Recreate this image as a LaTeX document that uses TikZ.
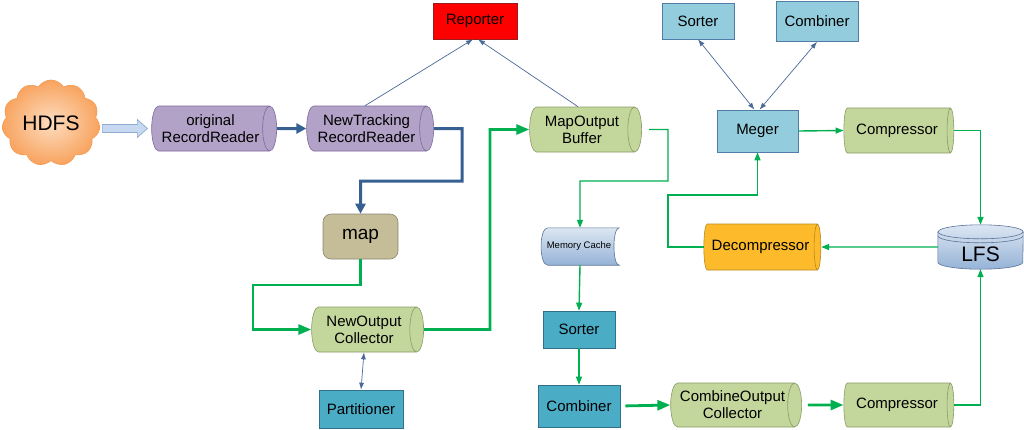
\documentclass[tikz,border=0pt]{standalone}
\usepackage{fontspec}
\setmainfont{Liberation Sans}
\usetikzlibrary{shapes.geometric,shapes.symbols,arrows.meta,calc}
\definecolor{cPurple}{HTML}{B3A2C7}
\definecolor{cPurpleB}{HTML}{7F6A9E}
\definecolor{cGreen}{HTML}{C3D69B}
\definecolor{cGreenB}{HTML}{8A9C66}
\definecolor{cTan}{HTML}{C4BD97}
\definecolor{cTanB}{HTML}{8C8670}
\definecolor{cLight}{HTML}{93CDDD}
\definecolor{cLightB}{HTML}{4F7DA8}
\definecolor{cDark}{HTML}{4BACC6}
\definecolor{cDarkB}{HTML}{31708A}
\definecolor{cRed}{HTML}{FF0000}
\definecolor{cRedB}{HTML}{9A1C1C}
\definecolor{cAmber}{HTML}{FDBB2C}
\definecolor{cAmberB}{HTML}{B8891F}
\definecolor{cFlowBlue}{HTML}{376092}
\definecolor{cGreenLine}{HTML}{00B050}
\definecolor{cThin}{HTML}{4A6A98}
\definecolor{cSkyT}{HTML}{DCE6F2}
\definecolor{cSkyB}{HTML}{95B3D7}
\definecolor{cSkyLine}{HTML}{5B7398}
\definecolor{cArrowFill}{HTML}{C6D9F1}
\definecolor{cArrowLine}{HTML}{8EAAD0}
\definecolor{cCloudIn}{HTML}{FDDDC0}
\definecolor{cCloudOut}{HTML}{F8A35E}
\definecolor{cCloudB}{HTML}{F59A50}
\begin{document}
\begin{tikzpicture}[x=1pt,y=-1pt,
  txt/.style={font=\fontsize{15}{17}\selectfont, text=black, align=center},
  cyl/.style={txt, cylinder, shape border rotate=0, aspect=0.5, draw, line width=0.6pt, inner sep=0pt},
  purplecyl/.style={cyl, fill=cPurple, draw=cPurpleB},
  greencyl/.style={cyl, fill=cGreen, draw=cGreenB},
  box/.style={txt, rectangle, draw, line width=0.6pt, inner sep=0pt},
  lightbox/.style={box, fill=cLight, draw=cLightB},
  darkbox/.style={box, fill=cDark, draw=cDarkB},
  blueflow/.style={draw=cFlowBlue, line width=3pt, -{Triangle[length=10pt,width=10pt]}},
  gthick/.style={draw=cGreenLine, line width=2.8pt, -{Triangle[length=13pt,width=10pt]}},
  gthin/.style={draw=cGreenLine, line width=1.4pt, -{Triangle[length=8pt,width=6pt]}},
  thinblue/.style={draw=cThin, line width=0.7pt, -{Latex[length=7pt,width=5pt]}},
  thinboth/.style={draw=cThin, line width=0.7pt, {Latex[length=7pt,width=5pt]}-{Latex[length=7pt,width=5pt]}}
]
\useasboundingbox (0,0) rectangle (1024,429);
\fill[white] (0,0) rectangle (1024,429);

% ---------- nodes ----------
\node[cloud, cloud puffs=11, cloud puff arc=115, aspect=1.15, minimum width=98pt, minimum height=86pt,
      inner sep=0pt, draw=cCloudB, line width=0.6pt, inner color=cCloudIn, outer color=cCloudOut,
      font=\fontsize{21}{24}\selectfont] (hdfs) at (51,123) {HDFS};

\node[purplecyl, minimum height=125pt, minimum width=45pt] (orig) at (210.5,128.5) {original\\RecordReader};
\node[purplecyl, minimum height=127pt, minimum width=45pt] (newtr) at (366.5,128.5) {NewTracking\\RecordReader};
\node[box, rounded corners=8pt, fill=cTan, draw=cTanB, minimum width=75pt, minimum height=45pt,
      font=\fontsize{19}{22}\selectfont] (map) at (360.5,236.5) {map};
\node[greencyl, minimum height=112pt, minimum width=45pt] (newout) at (364,329.5) {NewOutput\\Collector};
\node[darkbox, minimum width=84pt, minimum height=38pt] (part) at (361,409) {Partitioner};
\node[box, fill=cRed, draw=cRedB, minimum width=84pt, minimum height=36pt] (rep) at (475,21) {Reporter};
\node[greencyl, minimum height=112pt, minimum width=45pt] (mapout) at (582,129.5) {MapOutput\\Buffer};

\node[minimum width=78pt, minimum height=37pt, inner sep=0pt] (mem) at (580,246.5) {};
\shade[top color=cSkyT, bottom color=cSkyB, draw=cSkyLine, line width=0.6pt]
  ([xshift=7pt]mem.north west) -- (mem.north east)
  .. controls ([xshift=-7pt]mem.north east) and ([xshift=-7pt]mem.south east) .. (mem.south east)
  -- ([xshift=7pt]mem.south west)
  .. controls ([xshift=-2pt]mem.south west) and ([xshift=-2pt]mem.north west) .. ([xshift=7pt]mem.north west) -- cycle;
\node[font=\fontsize{9.5}{11}\selectfont, inner sep=0pt] (memt) at ([xshift=-1pt]mem.center) {Memory Cache};

\node[darkbox, minimum width=72pt, minimum height=37pt] (sortB) at (579,329.5) {Sorter};
\node[darkbox, minimum width=82pt, minimum height=42pt] (combB) at (579,406) {Combiner};
\node[greencyl, minimum height=131pt, minimum width=44pt] (combout) at (732.5,405) {CombineOutput\\Collector};
\node[greencyl, minimum height=110pt, minimum width=44pt] (comp2) at (897,405) {Compressor};

\node[lightbox, minimum width=72pt, minimum height=36pt] (sortT) at (698,21) {Sorter};
\node[lightbox, minimum width=82pt, minimum height=40pt] (combT) at (817,21.5) {Combiner};
\node[lightbox, minimum width=81pt, minimum height=42pt] (meger) at (757.5,131) {Meger};
\node[greencyl, minimum height=110pt, minimum width=45pt] (comp1) at (897,130.5) {Compressor};
\node[cyl, fill=cAmber, draw=cAmberB, minimum height=117pt, minimum width=46pt] (decomp) at (760.5,247) {Decompressor};

\node[minimum width=85pt, minimum height=44pt, inner sep=0pt] (lfs) at (980.5,247) {};
\shade[top color=cSkyT, bottom color=cSkyB, draw=cSkyLine, line width=0.6pt]
  ([yshift=-7pt]lfs.north west) -- ([yshift=7pt]lfs.south west)
  arc[start angle=180, end angle=360, x radius=42.5pt, y radius=7pt]
  -- ([yshift=-7pt]lfs.north east)
  arc[start angle=0, end angle=180, x radius=42.5pt, y radius=7pt] -- cycle;
\draw[cSkyLine, line width=0.6pt] ([yshift=-7pt]lfs.north west)
  arc[start angle=180, end angle=360, x radius=42.5pt, y radius=7pt];
\draw[cSkyLine, line width=0.6pt] ([yshift=-11pt]lfs.north west)
  arc[start angle=180, end angle=360, x radius=42.5pt, y radius=7pt];
\node[font=\fontsize{21}{24}\selectfont, inner sep=0pt] (lfst) at ([yshift=-7pt]lfs.center) {LFS};

% ---------- connectors ----------
\coordinate (ha) at ([xshift=3pt]hdfs.east |- orig.west);
\draw[fill=cArrowFill, draw=cArrowLine, line width=0.7pt, line join=miter]
  (ha) +(0,-4) -- +(35,-4) -- +(35,-9) -- +(45,0) -- +(35,9) -- +(35,4) -- +(0,4) -- cycle;

\draw[blueflow] (orig.east) -- (newtr.west);
\draw[blueflow] (newtr.east) -- (462,128.5) -- (462,181) -- (map.north |- 0,181) -- (map.north);

\draw[gthick] (map.south) -- (map.south |- 0,285) -- (253,285) -- (253,329.5) -- (newout.west);
\draw[gthick] (newout.east) -- (490,329.5) -- (490,129.5) -- (mapout.west);
\draw[thinboth] (newout.south) -- (part.north);

\draw[thinblue] ([xshift=-1.5pt]newtr.north) -- ([xshift=-2pt]rep.south);
\draw[thinblue] ([xshift=-4pt]mapout.north) -- ([xshift=3pt]rep.south);

\draw[gthin, shorten <=7pt] (mapout.east) -- (668,129.5) -- (668,181) -- (mem.north |- 0,181) -- (mem.north);
\draw[gthin] (mem.south) -- (sortB.north);
\draw[gthin] (sortB.south) -- (combB.north);
\draw[gthick, shorten <=5pt] (combB.east) -- (combout.west);
\draw[gthick, shorten <=6pt] (combout.east) -- (comp2.west);
\draw[gthin] (comp2.east) -| (lfs.south);

\draw[thinboth] (sortT.south) -- ([xshift=-3pt]meger.north);
\draw[thinboth] (combT.south) -- ([xshift=2pt]meger.north);
\draw[gthin] (meger.east) -- (comp1.west);
\draw[gthin] (comp1.east) -| (lfs.north);
\draw[gthin] (lfs.west) -- (decomp.east);
\draw[gthin] (decomp.west) -- (668,247) -- (668,195) -- (meger.south |- 0,195) -- (meger.south);
\end{tikzpicture}
\end{document}
